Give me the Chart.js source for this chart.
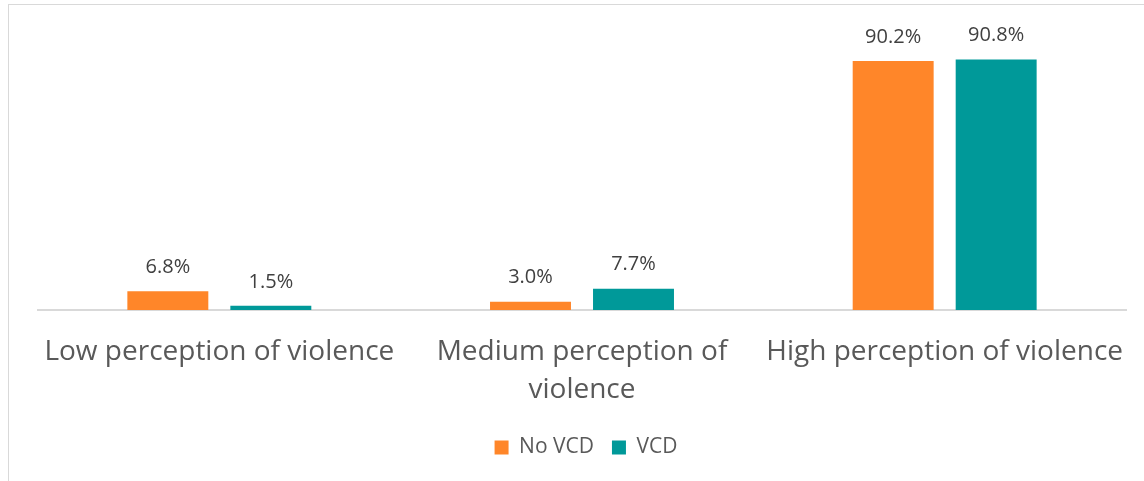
<!DOCTYPE html>
<html>
<head>
<meta charset="utf-8">
<script src="https://cdn.jsdelivr.net/npm/chart.js@4"></script>
<style>
  html, body { margin: 0; padding: 0; background: #ffffff; overflow: hidden; }
  #wrap { position: relative; width: 1144px; height: 481px; }
  #frame { position: absolute; left: 8px; top: 4px; width: 1200px; height: 600px; border: 1px solid #d9d9d9; box-sizing: border-box; }
  canvas { position: absolute; left: 0; top: 0; }
</style>
</head>
<body>
<div id="wrap">
  <div id="frame"></div>
  <canvas id="c" width="1144" height="481"></canvas>
</div>
<script>
const categories = [
  "Low perception of violence",
  ["Medium perception of", "violence"],
  "High perception of violence"
];
const seriesNames = ["No VCD", "VCD"];
const noVcd = [6.8, 3.0, 90.2];
const vcd = [1.5, 7.7, 90.8];
const colors = ["#FF8629", "#009999"];

const valueLabels = {
  id: 'valueLabels',
  afterDatasetsDraw(chart) {
    const ctx = chart.ctx;
    ctx.save();
    ctx.font = '20px "Open Sans"';
    ctx.fillStyle = '#404040';
    ctx.textAlign = 'center';
    ctx.textBaseline = 'middle';
    chart.data.datasets.forEach((ds, i) => {
      chart.getDatasetMeta(i).data.forEach((bar, j) => {
        ctx.fillText(ds.data[j].toFixed(1) + '%', bar.x, bar.y - 24);
      });
    });
    ctx.restore();
  }
};

const legendShift = {
  id: 'legendShift',
  afterLayout(chart) {
    if (chart.legend) {
      chart.legend.left += 4;
      chart.legend.right += 4;
    }
  }
};

new Chart(document.getElementById('c'), {
  type: 'bar',
  data: {
    labels: categories,
    datasets: [
      { label: seriesNames[0], data: noVcd, backgroundColor: colors[0], categoryPercentage: 0.568, barPercentage: 0.786 },
      { label: seriesNames[1], data: vcd, backgroundColor: colors[1], categoryPercentage: 0.568, barPercentage: 0.786 }
    ]
  },
  options: {
    responsive: false,
    animation: false,
    layout: { padding: { left: 38, right: 18, top: 34, bottom: 13 } },
    plugins: {
      legend: {
        position: 'bottom',
        labels: {
          boxWidth: 14, boxHeight: 14, padding: 18,
          font: { family: 'Open Sans', size: 21 },
          color: '#595959'
        }
      },
      tooltip: { enabled: false }
    },
    scales: {
      x: {
        grid: { display: false, drawTicks: false },
        border: { display: true, color: '#d9d9d9', width: 2 },
        ticks: {
          color: '#595959',
          padding: 23,
          maxRotation: 0,
          autoSkip: false,
          font: { family: 'Open Sans', size: 28, lineHeight: 1.36 }
        },
        afterFit(scale) {
          scale.paddingLeft = 0;
          scale.paddingRight = 0;
          scale.height = 109;
        }
      },
      y: {
        display: false,
        min: 0, max: 100
      }
    }
  },
  plugins: [valueLabels, legendShift]
});
</script>
</body>
</html>
